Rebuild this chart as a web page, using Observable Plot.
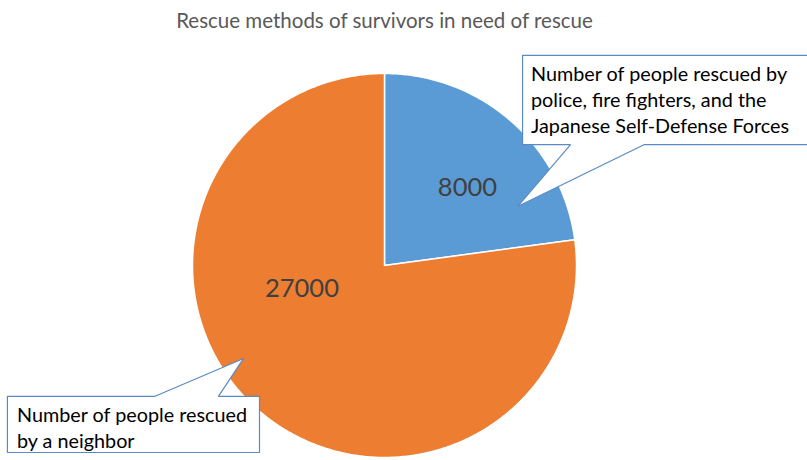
<!DOCTYPE html>
<html>
<head>
<meta charset="utf-8">
<script src="https://cdn.jsdelivr.net/npm/d3@7"></script>
<script src="https://cdn.jsdelivr.net/npm/@observablehq/plot@0.6"></script>
<style>
  html, body { margin: 0; padding: 0; background: #fff; }
</style>
</head>
<body>
<div id="chart"></div>
<script>
// ---- Data ----
const title = "Rescue methods of survivors in need of rescue";
const categories = [
  "Number of people rescued by police, fire fighters, and the Japanese Self-Defense Forces",
  "Number of people rescued by a neighbor"
];
const values = [8000, 27000];
const colors = ["#5b9bd5", "#ed7d31"];
const calloutTexts = [
  "Number of people rescued by\npolice, fire fighters, and the\nJapanese Self-Defense Forces",
  "Number of people rescued\nby a neighbor"
];

// ---- Layout (annotation placement, in pie units) ----
const valueLabelPos = [[0.432, 0.406], [-0.430, -0.122]];
const callouts = [
  {
    poly: [[0.719, 1.094], [2.3, 1.094], [2.3, 0.630], [1.354, 0.630], [0.693, 0.307], [0.969, 0.630], [0.719, 0.630], [0.719, 1.094]],
    text: [0.763, 0.870]
  },
  {
    poly: [[-1.964, -0.682], [-1.198, -0.682], [-0.734, -0.484], [-0.865, -0.682], [-0.651, -0.682], [-0.651, -0.974], [-1.964, -0.974], [-1.964, -0.682]],
    text: [-1.914, -0.838]
  }
];

// ---- Build slices from values ----
const pie = d3.pie().sort(null).startAngle(0).endAngle(2 * Math.PI)(values);
const slicePts = [];
pie.forEach((p, i) => {
  slicePts.push({k: i, x: 0, y: 0});
  const n = Math.max(2, Math.ceil((p.endAngle - p.startAngle) / 0.01));
  for (let j = 0; j <= n; j++) {
    const a = p.startAngle + (p.endAngle - p.startAngle) * j / n;
    slicePts.push({k: i, x: Math.sin(a), y: Math.cos(a)});
  }
  slicePts.push({k: i, x: 0, y: 0});
});

const calloutPts = [];
callouts.forEach((c, i) => c.poly.forEach(([x, y]) => calloutPts.push({k: i, x, y})));

const font = "Lato, 'Open Sans', sans-serif";

const chart = Plot.plot({
  width: 807,
  height: 460,
  marginLeft: 192,
  marginRight: 231,
  marginTop: 73,
  marginBottom: 3,
  x: {domain: [-1, 1], axis: null},
  y: {domain: [-1, 1], axis: null},
  style: {fontFamily: font, background: "#fff", overflow: "visible"},
  marks: [
    Plot.line(slicePts, {
      x: "x", y: "y", z: "k",
      fill: d => colors[d.k],
      stroke: "#fff", strokeWidth: 1.5, strokeLinejoin: "round"
    }),
    Plot.text(values, {
      x: (d, i) => valueLabelPos[i][0],
      y: (d, i) => valueLabelPos[i][1],
      text: d => String(d),
      fontSize: 25.5, fill: "#404040"
    }),
    Plot.line(calloutPts, {
      x: "x", y: "y", z: "k",
      fill: "#fff", stroke: "#5a8ac6", strokeWidth: 1.2, strokeLinejoin: "miter"
    }),
    Plot.text(calloutTexts, {
      x: (d, i) => callouts[i].text[0],
      y: (d, i) => callouts[i].text[1],
      text: d => d,
      textAnchor: "start", lineAnchor: "middle", lineHeight: 1.31,
      fontSize: 19.8, fill: "#000"
    }),
    Plot.text([title], {
      frameAnchor: "top", dy: -60,
      text: d => d,
      fontSize: 20.5, fill: "#595959"
    })
  ]
});
document.getElementById("chart").appendChild(chart);
</script>
</body>
</html>
